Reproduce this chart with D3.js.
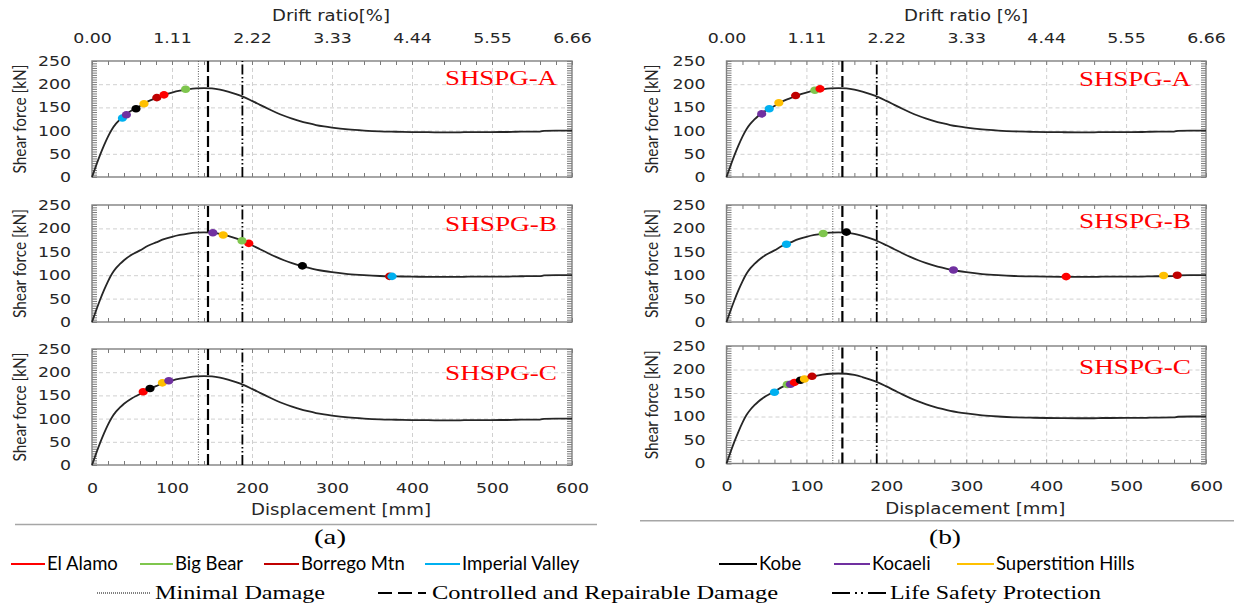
<!DOCTYPE html>
<html>
<head>
<meta charset="utf-8">
<script src="https://cdn.jsdelivr.net/npm/d3@7"></script>
<style>
  body { margin: 0; background: #fff; }
  svg { display: block; }
  .tick text { font-family: "DejaVu Sans", sans-serif; font-size: 14px; fill: #262626; }
</style>
</head>
<body>
<svg id="chart" width="1234" height="608"></svg>
<script>
// pushover curve, same backbone for the three specimens
var dispMm = [0, 5, 10, 15, 20, 25, 30, 35, 40, 50, 60, 70, 80, 90, 100, 110, 120, 130, 140, 150,
    160, 170, 180, 190, 200, 210, 220, 230, 240, 250, 260, 270, 280, 290, 300, 320, 340, 360, 380,
    400, 420, 440, 460, 470, 480, 500, 520, 530, 540, 560, 565, 580, 600];
var shearKn = [0, 24, 47, 68, 87, 103, 115, 124, 132, 144, 153, 163, 170, 177, 182, 186, 189, 191, 191.5, 191,
    188.5, 184, 178.5, 172, 164, 155.5, 147, 139, 132, 126, 120.5, 116, 112, 109, 106.5, 102.5, 100, 98.3, 97.5,
    96.8, 96.5, 96.3, 96.3, 96.8, 96.8, 96.9, 97, 97.5, 97.8, 98, 99.5, 100, 100];

var dispTicks = [0, 100, 200, 300, 400, 500, 600];
var driftTicks = ["0.00", "1.11", "2.22", "3.33", "4.44", "5.55", "6.66"];
var shearTicks = [0, 50, 100, 150, 200, 250];

var records = ["El Alamo", "Big Bear", "Borrego Mtn", "Imperial Valley", "Kobe", "Kocaeli", "Superstition Hills"];
var recordColors = ["#ff0000", "#7fc64e", "#c00000", "#00b0f0", "#000000", "#7030a0", "#ffc000"];

var limitNames = ["Minimal Damage", "Controlled and Repairable Damage", "Life Safety Protection"];
var limitDisp = [133, 145, 188];

var specimens = ["SHSPG-A", "SHSPG-B", "SHSPG-C"];

// performance points [record, displacement mm, shear kN]
var ptsLeftA = [["Imperial Valley", 38, 127], ["Kocaeli", 43, 134], ["Kobe", 55, 147], ["Superstition Hills", 65, 158],
    ["Borrego Mtn", 81, 171], ["El Alamo", 90, 177], ["Big Bear", 117, 189]];
var ptsLeftB = [["Borrego Mtn", 372, 97.5], ["Imperial Valley", 375, 97.5], ["Kobe", 263, 120], ["El Alamo", 196, 168],
    ["Big Bear", 187.5, 173.7], ["Superstition Hills", 164, 186], ["Kocaeli", 151, 190.7]];
var ptsLeftC = [["El Alamo", 64, 158], ["Kobe", 72.5, 165], ["Superstition Hills", 88, 177], ["Kocaeli", 96, 181.5]];
var ptsRightA = [["Kocaeli", 44, 136], ["Imperial Valley", 53.5, 147], ["Superstition Hills", 65.5, 160],
    ["Borrego Mtn", 86.5, 175.5], ["Big Bear", 110.5, 187], ["El Alamo", 117, 190]];
var ptsRightB = [["Imperial Valley", 75, 166], ["Big Bear", 121, 189], ["Kobe", 150, 192], ["Kocaeli", 284, 111],
    ["El Alamo", 425, 97], ["Superstition Hills", 547, 99.3], ["Borrego Mtn", 564, 100]];
var ptsRightC = [["Imperial Valley", 60, 151.5], ["Big Bear", 76, 168], ["Kocaeli", 80, 168.5], ["El Alamo", 85, 172.5],
    ["Kobe", 92.5, 177], ["Superstition Hills", 97.5, 179.7], ["Borrego Mtn", 107, 185.5]];

var svg = d3.select("svg#chart");
var TX = 1.24; // the figure is stretched horizontally

var color = d3.scaleOrdinal().domain(records).range(recordColors);

var cols = [
    { x0: 92, x1: 572, rows: [[61, 177], [205, 322], [349, 465]], labelY: [85, 231, 380], yTitleX: 20,
      drift: "Drift ratio[%]", driftX: 331, sub: "(a)", subX: 330, sep: [15, 597, 524.5], pts: [ptsLeftA, ptsLeftB, ptsLeftC] },
    { x0: 726.5, x1: 1206, rows: [[61, 177], [205, 322], [346, 463.5]], labelY: [86, 228, 374], yTitleX: 652,
      drift: "Drift ratio [%]", driftX: 966, sub: "(b)", subX: 945, sep: [640, 1234, 520.7], pts: [ptsRightA, ptsRightB, ptsRightC] }
];

function stretchText(sel, padX) {
    sel.selectAll(".tick text").attr("transform", "scale(" + TX + ",1)");
    if (padX != null) sel.selectAll(".tick text").attr("x", padX / TX);
}

function drawPanel(c, row) {
    var top = c.rows[row][0], bot = c.rows[row][1];
    var x = d3.scaleLinear().domain([0, 600]).range([c.x0, c.x1]);
    var y = d3.scaleLinear().domain([0, 250]).range([bot, top]);
    var g = svg.append("g");

    // dashed grid
    g.append("g").attr("transform", "translate(0," + bot + ")")
        .call(d3.axisBottom(x).tickValues(dispTicks.slice(1, -1)).tickSize(-(bot - top)).tickFormat(""))
        .call(s => s.select(".domain").remove());
    g.append("g").attr("transform", "translate(" + c.x0 + ",0)")
        .call(d3.axisLeft(y).tickValues(shearTicks.slice(1, -1)).tickSize(-(c.x1 - c.x0)).tickFormat(""))
        .call(s => s.select(".domain").remove());
    g.selectAll(".tick line").attr("stroke", "#d0d0d0").attr("stroke-dasharray", "4,3");

    // minor ticks on the frame, pointing in
    var minor = g.append("g").attr("class", "minor");
    minor.append("g").attr("transform", "translate(0," + top + ")")
        .call(d3.axisBottom(x).tickValues(d3.range(0, 601, 20)).tickSize(4).tickFormat(""));
    minor.append("g").attr("transform", "translate(0," + bot + ")")
        .call(d3.axisTop(x).tickValues(d3.range(0, 601, 20)).tickSize(4).tickFormat(""));
    minor.append("g").attr("transform", "translate(" + c.x0 + ",0)")
        .call(d3.axisRight(y).tickValues(d3.range(0, 251, 5)).tickSize(5).tickFormat(""));
    minor.append("g").attr("transform", "translate(" + c.x1 + ",0)")
        .call(d3.axisLeft(y).tickValues(d3.range(0, 251, 5)).tickSize(5).tickFormat(""));
    minor.selectAll(".domain").remove();
    minor.selectAll(".tick line").attr("stroke", "#7a7a7a");

    g.append("rect")
        .attr("x", c.x0).attr("y", top)
        .attr("width", c.x1 - c.x0).attr("height", bot - top)
        .attr("fill", "none").attr("stroke", "#808080").attr("stroke-width", 1.4);

    // y axis labels
    var ya = g.append("g").attr("transform", "translate(" + c.x0 + ",0)")
        .call(d3.axisLeft(y).tickValues(shearTicks).tickSize(0).tickPadding(21));
    ya.select(".domain").remove();
    stretchText(ya, -21);

    if (row === 0) {
        var xt = g.append("g").attr("transform", "translate(0," + top + ")")
            .call(d3.axisTop(x).tickValues(dispTicks).tickSize(0).tickPadding(18)
                .tickFormat((d, i) => driftTicks[i]));
        xt.select(".domain").remove();
        stretchText(xt);
        svg.append("text")
            .attr("x", c.driftX).attr("y", 21)
            .attr("text-anchor", "middle")
            .attr("textLength", c.drift === "Drift ratio[%]" ? 118 : 124)
            .attr("lengthAdjust", "spacingAndGlyphs")
            .style("font", "15px 'DejaVu Sans'").attr("fill", "#262626")
            .text(c.drift);
    }
    if (row === 2) {
        var xb = g.append("g").attr("transform", "translate(0," + bot + ")")
            .call(d3.axisBottom(x).tickValues(dispTicks).tickSize(0).tickPadding(18));
        xb.select(".domain").remove();
        stretchText(xb);
        svg.append("text")
            .attr("x", (c.x0 + c.x1) / 2 + 9).attr("y", bot + 50)
            .attr("text-anchor", "middle")
            .attr("textLength", 180).attr("lengthAdjust", "spacingAndGlyphs")
            .style("font", "15px 'DejaVu Sans'").attr("fill", "#262626")
            .text("Displacement [mm]");
    }

    g.append("text")
        .attr("transform", "translate(" + c.yTitleX + "," + (top + bot) / 2 + ") rotate(-90)")
        .attr("text-anchor", "middle").attr("dy", "0.35em")
        .attr("textLength", 109).attr("lengthAdjust", "spacingAndGlyphs")
        .style("font", "18px Lato").attr("fill", "#262626")
        .text("Shear force [kN]");

    // damage limit lines
    var limStyles = [
        { stroke: "#555", width: 1, dash: "1,1.5" },
        { stroke: "#000", width: 2.2, dash: "11,4" },
        { stroke: "#000", width: 1.8, dash: "10,2.5,1.5,2.5,1.5,2.5" }
    ];
    g.selectAll(".limit")
        .data(limitDisp)
        .enter().append("line")
        .attr("class", "limit")
        .attr("x1", d => x(d)).attr("x2", d => x(d))
        .attr("y1", bot).attr("y2", top)
        .attr("stroke", (d, i) => limStyles[i].stroke)
        .attr("stroke-width", (d, i) => limStyles[i].width)
        .attr("stroke-dasharray", (d, i) => limStyles[i].dash);

    var line = d3.line()
        .x(d => x(d[0]))
        .y(d => y(d[1]))
        .curve(d3.curveMonotoneX);

    g.append("path")
        .datum(d3.zip(dispMm, shearKn))
        .attr("d", line)
        .attr("fill", "none")
        .attr("stroke", "#262626")
        .attr("stroke-width", 1.8);

    g.selectAll(".pt")
        .data(c.pts[row])
        .enter().append("ellipse")
        .attr("class", "pt")
        .attr("cx", d => x(d[1]))
        .attr("cy", d => y(d[2]))
        .attr("rx", 4.6).attr("ry", 3.8)
        .attr("fill", d => color(d[0]));

    g.append("text")
        .attr("x", c.x1 - 15).attr("y", c.labelY[row])
        .attr("text-anchor", "end")
        .attr("textLength", 112).attr("lengthAdjust", "spacingAndGlyphs")
        .style("font", "20px 'Liberation Serif'").attr("fill", "#ff0000")
        .text(specimens[row]);
}

cols.forEach(c => {
    [0, 1, 2].forEach(r => drawPanel(c, r));
    svg.append("line")
        .attr("x1", c.sep[0]).attr("x2", c.sep[1])
        .attr("y1", c.sep[2]).attr("y2", c.sep[2])
        .attr("stroke", "#a6a6a6").attr("stroke-width", 1.4);
    svg.append("text")
        .attr("x", c.subX).attr("y", 544)
        .attr("text-anchor", "middle")
        .attr("textLength", 32).attr("lengthAdjust", "spacingAndGlyphs")
        .style("font", "21px 'Liberation Serif'").attr("fill", "#000")
        .text(c.sub);
});

// legend, row 1: records
var recLayout = [[11, 45, 47], [140, 173, 175], [264, 299, 301], [425, 460, 462],
    [719, 757, 759], [834, 870, 872], [957, 994, 996]];
var leg1 = svg.selectAll(".leg1")
    .data(records)
    .enter().append("g")
    .attr("class", "leg1");
leg1.append("line")
    .attr("x1", (d, i) => recLayout[i][0]).attr("x2", (d, i) => recLayout[i][1])
    .attr("y1", 564).attr("y2", 564)
    .attr("stroke", d => color(d)).attr("stroke-width", 2.2);
leg1.append("text")
    .attr("x", (d, i) => recLayout[i][2]).attr("y", 570)
    .style("font", "18.5px Lato").attr("fill", "#000")
    .text(d => d);

// legend, row 2: damage limits
var limLayout = [[97, 150, 155, 170, "1,1", 1], [378, 428, 432, 346, "14,6,14,6,8", 1.8], [832, 886, 890, 211, "18,5,2,4,2,5,18,20", 1.8]];
var leg2 = svg.selectAll(".leg2")
    .data(limitNames)
    .enter().append("g")
    .attr("class", "leg2");
leg2.append("line")
    .attr("x1", (d, i) => limLayout[i][0]).attr("x2", (d, i) => limLayout[i][1])
    .attr("y1", 593).attr("y2", 593)
    .attr("stroke", "#000")
    .attr("stroke-width", (d, i) => limLayout[i][5])
    .attr("stroke-dasharray", (d, i) => limLayout[i][4]);
leg2.append("text")
    .attr("x", (d, i) => limLayout[i][2]).attr("y", 599)
    .attr("textLength", (d, i) => limLayout[i][3]).attr("lengthAdjust", "spacingAndGlyphs")
    .style("font", "19px 'Liberation Serif'").attr("fill", "#000")
    .text(d => d);
</script>
</body>
</html>
